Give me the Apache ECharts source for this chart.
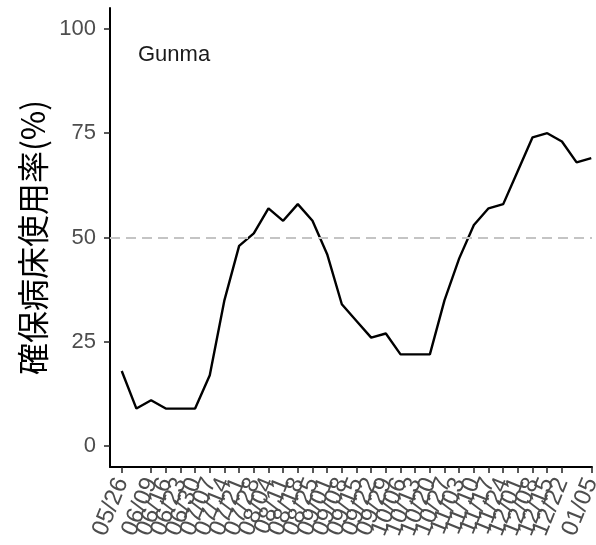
<!DOCTYPE html>
<html lang="ja">
<head>
    <meta charset="UTF-8">
    <title>Gunma 確保病床使用率</title>
    <script src="https://cdn.jsdelivr.net/npm/echarts@6/dist/echarts.min.js"></script>
    <style>
        html, body { margin: 0; padding: 0; background: #fff; }
        #main { width: 596px; height: 545px; }
    </style>
</head>
<body>
<div id="main"></div>
<script type="text/javascript">
    // 週ごとの日付ラベル
    var dates = ['05/26', '06/02', '06/09', '06/16', '06/23', '06/30', '07/07', '07/14', '07/21', '07/28',
        '08/04', '08/11', '08/18', '08/25', '09/01', '09/08', '09/15', '09/22', '09/29', '10/06',
        '10/13', '10/20', '10/27', '11/03', '11/10', '11/17', '11/24', '12/01', '12/08', '12/15',
        '12/22', '12/29', '01/05'];
    // 確保病床使用率(%)
    var usage = [18, 9, 11, 9, 9, 9, 17, 35, 48, 51,
        57, 54, 58, 54, 46, 34, 30, 26, 27, 22,
        22, 22, 35, 45, 53, 57, 58, 66, 74, 75,
        73, 68, 69];
    var yTicks = [0, 25, 50, 75, 100];
    var refLine = 50;
    var prefName = 'Gunma';

    var xTicks = dates.map(function (d, i) { return i; });
    var lineData = usage.map(function (v, i) { return [i, v]; });

    var myChart = echarts.init(document.getElementById('main'));
    var labelFont = '"Liberation Sans", Arial, sans-serif';

    var option = {
        backgroundColor: '#ffffff',
        animation: false,
        title: {
            text: prefName,
            left: 133,
            top: 39,
            textStyle: { fontFamily: labelFont, fontSize: 22, fontWeight: 'normal', color: '#1a1a1a' }
        },
        grid: { left: 110, right: 4, top: 8, bottom: 78, containLabel: false, outerBoundsMode: 'none' },
        xAxis: {
            type: 'value',
            min: -0.8,
            max: 32.05,
            splitLine: { show: false },
            axisLine: { onZero: false, lineStyle: { color: '#000', width: 2 } },
            axisTick: { length: 6, lineStyle: { color: '#222', width: 1.5 }, customValues: xTicks },
            axisLabel: {
                customValues: xTicks,
                interval: 0,
                showMinLabel: true,
                showMaxLabel: true,
                hideOverlap: false,
                rotate: 68,
                margin: 12,
                fontFamily: labelFont,
                fontSize: 24,
                color: '#4d4d4d',
                formatter: function (v) { return dates[Math.round(v)] || ''; }
            }
        },
        yAxis: {
            type: 'value',
            min: -5,
            max: 105,
            name: '確保病床使用率(%)',
            nameLocation: 'middle',
            nameGap: 54,
            nameTextStyle: { fontFamily: '"Noto Sans CJK JP", sans-serif', fontSize: 32, color: '#000' },
            splitLine: { show: false },
            axisLine: { show: true, onZero: false, lineStyle: { color: '#000', width: 2 } },
            axisTick: { show: true, length: 6, lineStyle: { color: '#222', width: 1.5 }, customValues: yTicks },
            axisLabel: {
                customValues: yTicks,
                margin: 14,
                fontFamily: labelFont,
                fontSize: 22,
                color: '#4d4d4d'
            }
        },
        series: [{
            type: 'line',
            data: lineData,
            showSymbol: false,
            symbol: 'none',
            lineStyle: { color: '#000', width: 2.4 },
            markLine: {
                silent: true,
                symbol: 'none',
                label: { show: false },
                lineStyle: { color: '#c4c4c4', width: 2, type: [10, 6] },
                data: [{ yAxis: refLine }]
            }
        }]
    };

    myChart.setOption(option);
</script>
</body>
</html>
